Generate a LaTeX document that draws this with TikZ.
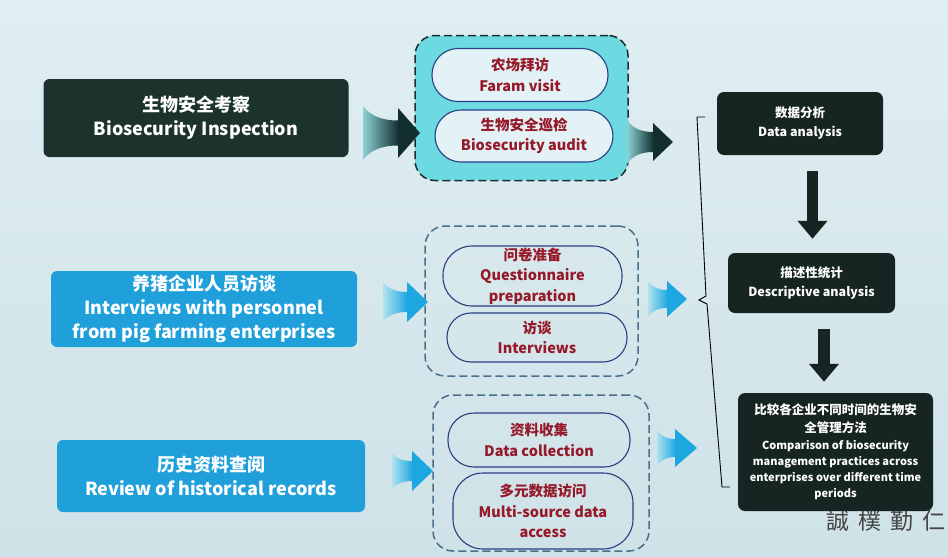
\documentclass[tikz,border=0pt]{standalone}
\usepackage{fontspec}
\setmainfont{Noto Sans CJK SC}
\newfontfamily\tcfont{Noto Sans CJK TC}
\usetikzlibrary{arrows.meta,calc}
\definecolor{bgc}{RGB}{214,232,236}
\definecolor{bgtop}{RGB}{224,238,242}
\definecolor{bgbot}{RGB}{206,226,231}
\definecolor{darkg}{RGB}{28,50,45}
\definecolor{darkb}{RGB}{22,36,34}
\definecolor{blueb}{RGB}{32,160,218}
\definecolor{cyanf}{RGB}{108,218,224}
\definecolor{pillf}{RGB}{226,242,246}
\definecolor{pillb}{RGB}{40,62,132}
\definecolor{redt}{RGB}{150,25,42}
\definecolor{dasha}{RGB}{28,44,50}
\definecolor{dashb}{RGB}{72,112,140}
\definecolor{arrd}{RGB}{18,46,46}
\definecolor{arrdl}{RGB}{140,210,212}
\definecolor{arrb}{RGB}{30,166,225}
\definecolor{arrbl}{RGB}{176,226,240}
\definecolor{marks}{RGB}{70,70,70}

% #1 tail coordinate, #2 length, #3 head length, #4 tail half, #5 shaft half, #6 head half, #7 tail colour, #8 head colour
\newcommand\fatarrow[8]{%
 \begin{scope}[shift={(#1)}]
  \pgfmathsetmacro\fw{#2-#3}
  \shade[left color=#7, right color=#8]
    (0,-#4) .. controls (0.22*\fw,-#5-0.3*#4+0.3*#5) and (0.55*\fw,-#5) .. (\fw,-#5)
    -- (\fw+0.8,-#5) -- (\fw+0.8,#5) -- (\fw,#5)
    .. controls (0.55*\fw,#5) and (0.22*\fw,#5+0.3*#4-0.3*#5) .. (0,#4) -- cycle;
  \fill[#8] (\fw,-#6) -- (#2,0) -- (\fw,#6) -- cycle;
 \end{scope}}

\newcommand\enfs{\fontsize{11}{16.5}\selectfont}

\tikzset{
 leftdark/.style={fill=darkg, rounded corners=6pt, text=white, font=\fontsize{18}{24}\selectfont\bfseries, align=center, inner sep=0pt},
 leftblue/.style={leftdark, fill=blueb},
 grp/.style={rounded corners=20pt, dashed, dash pattern=on 8pt off 4pt, line width=1.5pt, inner sep=0pt},
 pill/.style={draw=pillb, line width=1.1pt, text=redt, font=\fontsize{14.5}{20.5}\selectfont\bfseries, align=center, inner sep=0pt},
 rbox/.style={fill=darkb, rounded corners=7pt, text=white, font=\fontsize{12.5}{19}\selectfont\bfseries, align=center, inner sep=0pt},
 vdown/.style={line width=11.5pt, draw=darkb, -{Triangle[length=18pt,width=29pt]}},
 brace/.style={draw=black, line width=0.9pt},
}

\begin{document}
\begin{tikzpicture}[x=1pt,y=-1pt]
\useasboundingbox (0,0) rectangle (948,557);
\shade[top color=bgtop, bottom color=bgbot] (0,0) rectangle (948,557);

% left boxes
\node[leftdark, minimum width=305pt, minimum height=78pt] (L1) at (196,118) {生物安全考察\\Biosecurity Inspection};
\node[leftblue, minimum width=306pt, minimum height=76pt] (L2) at (204,309) {养猪企业人员访谈\\Interviews with personnel\\from pig farming enterprises};
\node[leftblue, minimum width=308pt, minimum height=72pt] (L3) at (211,476) {历史资料查阅\\Review of historical records};

% dashed groups
\node[grp, draw=dasha, fill=cyanf, minimum width=213pt, minimum height=145pt] (G1) at (521.5,108) {};
\node[grp, draw=dashb, minimum width=213pt, minimum height=150pt] (G2) at (531.5,301) {};
\node[grp, draw=dashb, minimum width=216pt, minimum height=156pt] (G3) at (541,473) {};

% pills
\node[pill, fill=pillf, minimum width=176pt, minimum height=53pt, rounded corners=26pt] (P1a) at (520,75) {农场拜访\\Faram visit};
\node[pill, fill=pillf, minimum width=178pt, minimum height=52pt, rounded corners=26pt] (P1b) at (524,136) {生物安全巡检\\Biosecurity audit};
\node[pill, minimum width=179pt, minimum height=60pt, rounded corners=29pt] (P2a) at (532.5,276) {问卷准备\\Questionnaire\\preparation};
\node[pill, minimum width=180pt, minimum height=49pt, rounded corners=24pt] (P2b) at (537,337.5) {访谈\\Interviews};
\node[pill, minimum width=182pt, minimum height=54pt, rounded corners=26pt] (P3a) at (539,440) {资料收集\\Data collection};
\node[pill, minimum width=180pt, minimum height=76pt, rounded corners=30pt] (P3b) at (543,511) {多元数据访问\\Multi-source data\\access};

% watermark
\node[anchor=east, text=marks, font=\tcfont\fontsize{23}{23}\selectfont, inner sep=0pt] (wm) at (946,521) {誠\hspace{9pt}樸\hspace{9pt}勤\hspace{9pt}仁};

% right boxes
\node[rbox, minimum width=166pt, minimum height=63pt] (R1) at (800,123.5) {数据分析\\Data analysis};
\node[rbox, minimum width=167pt, minimum height=60pt] (R2) at (811.5,283) {描述性统计\\Descriptive analysis};
\node[rbox, minimum width=195pt, minimum height=118pt, font=\fontsize{12.5}{18}\selectfont\bfseries] (R3) at (835.5,452) {比较各企业不同时间的生物安\\全管理方法\\[-1pt]{\enfs Comparison of biosecurity}\\[-2pt]{\enfs management practices across}\\[-2pt]{\enfs enterprises over different time}\\[-2pt]{\enfs periods}};

% fat arrows
\coordinate (t1) at (363,133);
\coordinate (t2) at (627,142);
\coordinate (t3) at (383,302);
\coordinate (t4) at (648,299);
\coordinate (t5) at (392,471);
\coordinate (t6) at (657,448);
\fatarrow{t1}{57}{22}{27}{12.5}{25}{arrdl}{arrd}
\fatarrow{t2}{46}{20}{22}{10}{19}{arrdl}{arrd}
\fatarrow{t3}{45}{21}{20}{10}{20}{arrbl}{arrb}
\fatarrow{t4}{39}{20}{18}{9}{18}{arrbl}{arrb}
\fatarrow{t5}{41}{21}{18}{10}{20}{arrbl}{arrb}
\fatarrow{t6}{40}{22}{18}{9}{19}{arrbl}{arrb}

% brace
\coordinate (b1) at (705,117);
\coordinate (b2) at (730,487);
\draw[brace] (b1) -- (697,117) -- (706,296) -- (699,300) -- (707,304) -- (722,487) -- (b2);

% down arrows
\draw[vdown] ([xshift=12.5pt,yshift=-16pt]R1.south) -- ([xshift=1pt,yshift=14pt]R2.north);
\draw[vdown] ([xshift=12.5pt,yshift=-16pt]R2.south) -- ([xshift=-11.5pt,yshift=11pt]R3.north);
\end{tikzpicture}
\end{document}
